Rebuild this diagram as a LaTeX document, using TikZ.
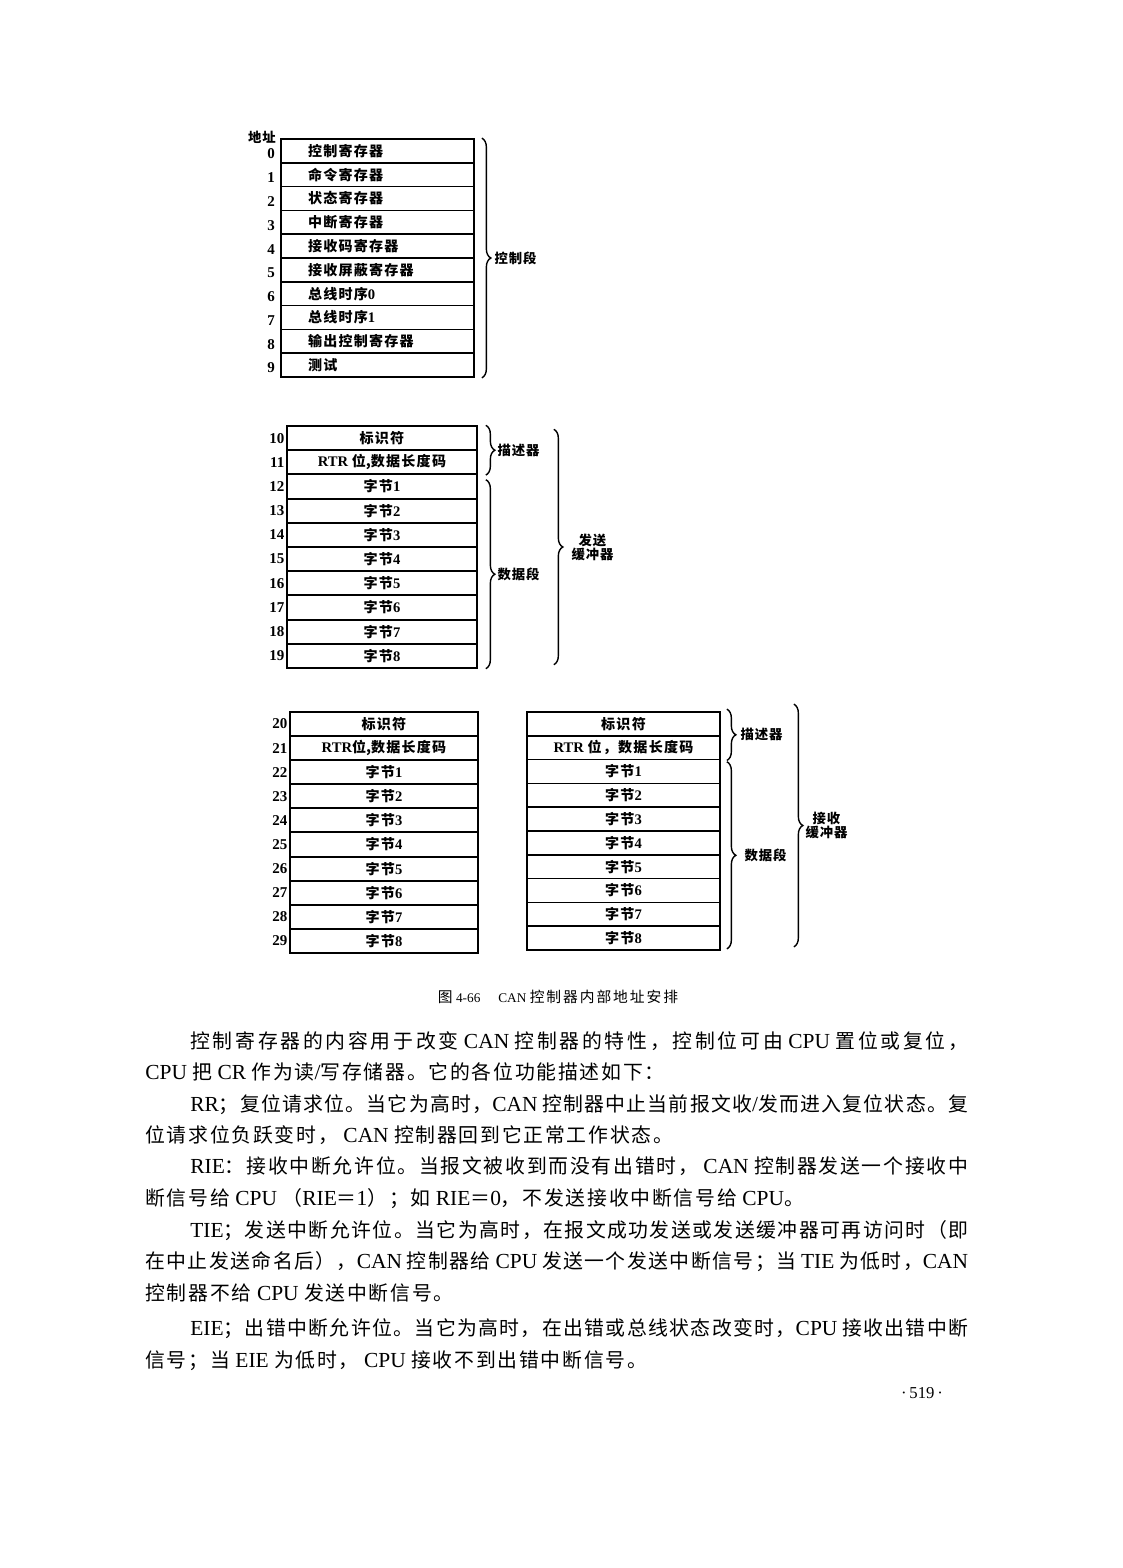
\documentclass[tikz,border=0pt]{standalone}
\usepackage{fontspec}
\setmainfont[Scale=1.08]{Liberation Serif}
\newfontfamily\zh{Noto Sans CJK SC}
% stretchable glue between CJK characters, used by the justified lines
\XeTeXinterchartokenstate=1
\newXeTeXintercharclass\cjkcls
\newcount\cjkn
\newdimen\cjkgap
\cjkn="4E00
\loop\XeTeXcharclass\cjkn=\cjkcls\advance\cjkn by 1\relax\ifnum\cjkn<"A000\repeat
\cjkn="3000
\loop\XeTeXcharclass\cjkn=\cjkcls\advance\cjkn by 1\relax\ifnum\cjkn<"3040\repeat
\cjkn="FF00
\loop\XeTeXcharclass\cjkn=\cjkcls\advance\cjkn by 1\relax\ifnum\cjkn<"FFF0\repeat
\XeTeXinterchartoks\cjkcls\cjkcls={\hskip\cjkgap plus 20pt minus 0.6pt\relax}
\newcommand\en[1]{{\rmfamily #1}}
\newcommand\tn[1]{{\rmfamily\fontsize{7.7}{8}\selectfont #1}}
\newcommand\cn[1]{{\rmfamily\fontsize{7}{8}\selectfont #1}}
\newcommand\setgap[1]{\global\cjkgap #1\relax}
\usetikzlibrary{positioning,decorations.pathreplacing}

\begin{document}
\begin{tikzpicture}[
  x=0.02cm,y=-0.02cm,
  reg/.style={draw,line width=1pt,minimum height=0.476cm,inner ysep=0pt,font=\zh\bfseries\fontsize{8}{9}\selectfont\setgap{0.7pt}},
  regl/.style={reg,text width=2.78cm,inner xsep=0.54cm,align=left},
  regc/.style={reg,inner xsep=0pt,align=center},
  addr/.style={anchor=east,inner sep=0pt,font=\rmfamily\bfseries\fontsize{7.9}{9}\selectfont},
  brc/.style={decorate,decoration={brace,amplitude=0.18cm},line width=0.8pt},
  blbl/.style={inner sep=0pt,align=center,font=\zh\bfseries\fontsize{7.6}{8}\selectfont\setgap{0.5pt}},
  body/.style={anchor=base west,inner sep=0pt,font=\zh\fontsize{11.3}{13}\selectfont\setgap{1pt}}]

  \useasboundingbox (0,0) rectangle (1122,1568);

  % control segment
  \node[blbl] (addrHead) at (262,137) {地址};
  \foreach \i/\txt in {0/控制寄存器,1/命令寄存器,2/状态寄存器,3/中断寄存器,4/接收码寄存器,5/接收屏蔽寄存器,6/总线时序\tn{0},7/总线时序\tn{1},8/输出控制寄存器,9/测试}{
    \node[regl] (c\i) at (377.5,{150.9+23.8*\i}) {\txt};
    \node[addr] (ca\i) at ([xshift=-0.1cm,yshift=-0.06cm]c\i.west) {\i};
  }
  \draw[brc] ([xshift=0.14cm]c0.north east) -- node[blbl,midway,right=0.24cm] (lCtrl) {控制段} ([xshift=0.14cm]c9.south east);

  % send buffer
  \foreach \i/\txt in {0/标识符,1/{\tn{RTR }位,数据长度码},2/字节\tn{1},3/字节\tn{2},4/字节\tn{3},5/字节\tn{4},6/字节\tn{5},7/字节\tn{6},8/字节\tn{7},9/字节\tn{8}}{
    \node[regc,minimum width=3.8cm] (s\i) at (382,{438.1+24.2*\i}) {\txt};
    \pgfmathtruncatemacro\adr{10+\i}
    \node[addr] (sa\i) at ([xshift=-0.03cm]s\i.west) {\adr};
  }
  \draw[brc] ([xshift=0.16cm]s0.north east) -- node[blbl,midway,right=0.22cm] (lSDesc) {描述器} ([xshift=0.16cm]s1.south east);
  \draw[brc] ([xshift=0.16cm,yshift=-0.12cm]s2.north east) -- node[blbl,midway,right=0.22cm] (lSData) {数据段} ([xshift=0.16cm]s9.south east);
  \draw[brc] ([xshift=1.52cm,yshift=-0.08cm]s0.north east) -- node[blbl,midway,right=0.34cm] (lSend) {发送\\缓冲器} ([xshift=1.52cm,yshift=0.08cm]s9.south east);

  % receive buffer
  \foreach \i/\txt in {0/标识符,1/{\tn{RTR}位,数据长度码},2/字节\tn{1},3/字节\tn{2},4/字节\tn{3},5/字节\tn{4},6/字节\tn{5},7/字节\tn{6},8/字节\tn{7},9/字节\tn{8}}{
    \node[regc,minimum width=3.76cm] (ra\i) at (384,{724+24.1*\i}) {\txt};
    \pgfmathtruncatemacro\adr{20+\i}
    \node[addr] (raa\i) at ([xshift=-0.03cm]ra\i.west) {\adr};
  }
  \foreach \i/\txt in {0/标识符,1/{\tn{RTR }位，数据长度码},2/字节\tn{1},3/字节\tn{2},4/字节\tn{3},5/字节\tn{4},6/字节\tn{5},7/字节\tn{6},8/字节\tn{7},9/字节\tn{8}}{
    \node[regc,minimum width=3.86cm] (rb\i) at (623.5,{723.9+23.8*\i}) {\txt};
  }
  \draw[brc] ([xshift=0.12cm,yshift=0.04cm]rb0.north east) -- node[blbl,midway,right=0.26cm] (lRDesc) {描述器} ([xshift=0.12cm]rb1.south east);
  \draw[brc] ([xshift=0.12cm,yshift=-0.06cm]rb2.north east) -- node[blbl,midway,right=0.34cm] (lRData) {数据段} ([xshift=0.12cm,yshift=0.04cm]rb9.south east);
  \draw[brc] ([xshift=1.46cm,yshift=0.14cm]rb0.north east) -- node[blbl,midway,right=0.22cm] (lRecv) {接收\\缓冲器} ([xshift=1.46cm,yshift=0.08cm]rb9.south east);

  % caption and text
  \node[inner sep=0pt,font=\zh\fontsize{8.4}{9}\selectfont\setgap{1.1pt}] (cap) at (558,997) {图\cn{ 4-66}\hspace{0.36cm}\cn{CAN }控制器内部地址安排};

  \node[body] (l1) at (190,1048.5) {\hbox to 15.56cm{控制寄存器的内容用于改变\en{ CAN }控制器的特性，控制位可由\en{ CPU }置位或复位，}};
  \node[body] (l2) at (145,1079.5) {\en{CPU }把\en{ CR }作为读\en{/}写存储器。它的各位功能描述如下：};
  \node[body] (l3) at (190,1111.5) {\hbox to 15.56cm{\en{RR}；复位请求位。当它为高时，\en{CAN }控制器中止当前报文收\en{/}发而进入复位状态。复}};
  \node[body] (l4) at (145,1142.5) {位请求位负跃变时，\en{ CAN }控制器回到它正常工作状态。};
  \node[body] (l5) at (190,1173.5) {\hbox to 15.56cm{\en{RIE}：接收中断允许位。当报文被收到而没有出错时，\en{ CAN }控制器发送一个接收中}};
  \node[body] (l6) at (145,1205.5) {断信号给\en{ CPU }（\en{RIE}＝\en{1}）；如\en{ RIE}＝\en{0}，不发送接收中断信号给\en{ CPU}。};
  \node[body] (l7) at (190,1237.5) {\hbox to 15.56cm{\en{TIE}；发送中断允许位。当它为高时，在报文成功发送或发送缓冲器可再访问时（即}};
  \node[body] (l8) at (145,1268.5) {\hbox to 16.46cm{在中止发送命名后），\en{CAN }控制器给\en{ CPU }发送一个发送中断信号；当\en{ TIE }为低时，\en{CAN}}};
  \node[body] (l9) at (145,1300.5) {控制器不给\en{ CPU }发送中断信号。};
  \node[body] (l10) at (190,1335.5) {\hbox to 15.56cm{\en{EIE}；出错中断允许位。当它为高时，在出错或总线状态改变时，\en{CPU }接收出错中断}};
  \node[body] (l11) at (145,1367.5) {信号；当\en{ EIE }为低时，\en{ CPU }接收不到出错中断信号。};

  \node[inner sep=0pt,font=\rmfamily\fontsize{8.8}{10}\selectfont] (pg) at (922,1393) {·\,519\,·};
\end{tikzpicture}
\end{document}
